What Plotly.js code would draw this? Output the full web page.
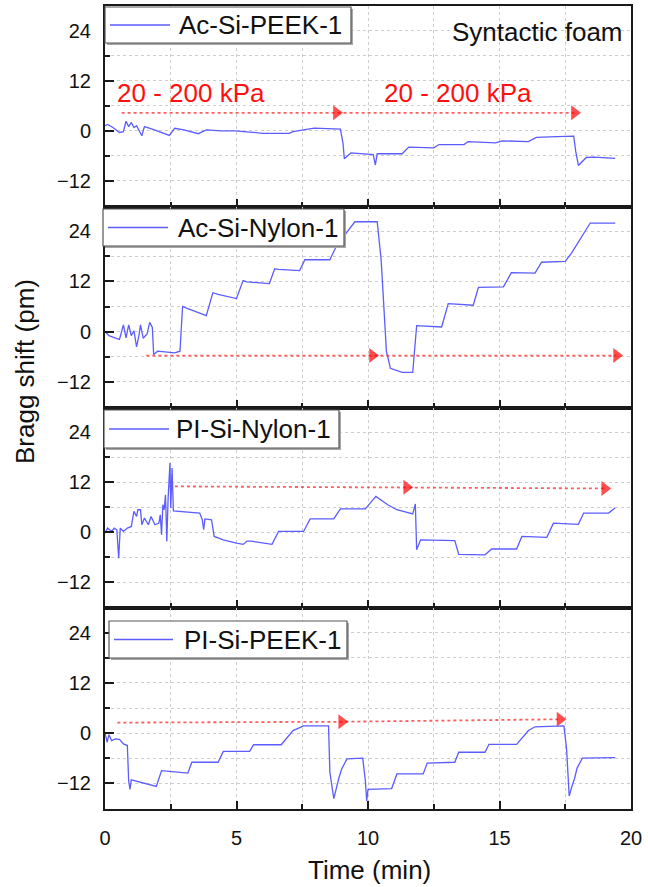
<!DOCTYPE html>
<html><head><meta charset="utf-8">
<script src="https://cdn.plot.ly/plotly-3.0.1.min.js"></script>
<style>html,body{margin:0;padding:0;background:#fff;}#chart{width:648px;height:887px;}</style>
</head><body><div id="chart"></div>
<script>
// ---------- data ----------
const seriesNames = ['Ac-Si-PEEK-1', 'Ac-Si-Nylon-1', 'PI-Si-Nylon-1', 'PI-Si-PEEK-1'];

const p1Time  = [0, 0.1, 0.3, 0.55, 0.7, 0.8, 0.9, 1.0, 1.1, 1.2, 1.4, 1.5, 1.8, 2.1, 2.45, 2.65, 3.0, 3.55, 3.85, 4.4, 4.95, 5.5, 6.0, 7.0, 7.15, 7.95, 8.5, 8.95, 9.05, 9.1, 9.35, 10.2, 10.28, 10.35, 11.3, 11.55, 12.5, 12.7, 13.65, 13.8, 14.85, 15.1, 16.1, 16.4, 17.2, 17.82, 17.9, 18.0, 18.3, 18.6, 19.4];
const p1Shift = [1.2, 1.5, 0.8, -0.4, -0.2, 2.3, 1.0, 2.0, 0.8, 1.2, -1.2, 1.0, 0.4, -0.3, -1.1, 0.6, 0.2, -0.7, 0.2, 0, 0, -0.3, -0.6, -0.6, -0.2, 0.65, 0.5, 0.4, -3.0, -6.7, -5.3, -5.7, -8.2, -5.5, -5.5, -3.9, -4.1, -3.3, -3.3, -2.6, -2.9, -2.4, -2.6, -1.6, -1.4, -1.3, -5.0, -8.3, -6.4, -6.3, -6.6];

const p2Time  = [0, 0.15, 0.4, 0.55, 0.7, 0.8, 0.9, 1.0, 1.1, 1.2, 1.3, 1.35, 1.45, 1.6, 1.7, 1.8, 1.85, 2.0, 2.65, 2.85, 2.95, 3.1, 3.85, 4.1, 4.3, 5.0, 5.25, 5.4, 6.25, 6.45, 6.6, 7.4, 7.6, 7.8, 8.55, 8.8, 9.5, 10.35, 10.5, 10.7, 10.85, 11.3, 11.7, 11.85, 12.8, 13.05, 14.0, 14.2, 15.15, 15.45, 16.35, 16.6, 17.5, 17.75, 18.45, 19.4];
const p2Shift = [0, -1.0, -1.6, -1.9, 1.6, -1.5, 1.6, -1.0, 0.2, -3.7, -0.6, 1.6, -1.6, -0.6, 2.2, 1.0, -5.5, -4.7, -5.1, -4.7, 6.0, 5.6, 3.8, 9.3, 8.9, 7.9, 12.2, 11.9, 11.5, 15.0, 14.9, 14.6, 17.2, 17.2, 17.2, 20.5, 26.3, 26.3, 17.2, -4.7, -8.8, -9.8, -9.8, 1.4, 1.1, 6.7, 6.3, 10.6, 10.7, 14.1, 14.0, 16.6, 16.8, 18.9, 26.0, 26.0];

const p3Time  = [0, 0.1, 0.25, 0.35, 0.45, 0.52, 0.58, 0.7, 0.85, 1.0, 1.1, 1.2, 1.25, 1.35, 1.4, 1.5, 1.65, 1.75, 1.9, 2.05, 2.1, 2.15, 2.2, 2.25, 2.3, 2.35, 2.4, 2.45, 2.47, 2.5, 2.55, 2.6, 2.9, 3.6, 3.7, 3.75, 3.8, 4.05, 4.15, 4.5, 5.0, 5.25, 5.4, 5.55, 6.35, 6.6, 7.55, 7.8, 8.7, 8.95, 9.9, 10.3, 10.75, 11.1, 11.7, 11.8, 11.85, 12.0, 13.3, 13.45, 14.45, 14.7, 15.65, 15.85, 16.8, 17.05, 18.0, 18.2, 19.15, 19.4];
const p3Shift = [-0.2, 1.0, 0.2, 1.0, 0.6, -6.2, 1.0, 0.2, 1.0, 1.4, 5.0, 3.8, 5.4, 5.4, 1.8, 3.4, 1.8, 3.8, 1.8, 2.2, 4.2, -0.6, 6.6, 5.4, 9.0, -2.2, 8.2, 14.6, 16.6, 5.8, 15.4, 5.1, 5.0, 4.6, 3.0, 0.6, 3.2, 3.0, -1.0, -1.8, -2.6, -2.9, -2.1, -2.1, -2.9, 0.2, 0.2, 3.2, 3.2, 5.6, 5.6, 8.6, 6.6, 5.4, 4.4, 6.8, -4.2, -1.8, -2.0, -5.3, -5.4, -4.0, -4.0, -1.0, -1.2, 2.2, 1.9, 4.6, 4.6, 5.9];

const p4Time  = [0, 0.08, 0.15, 0.25, 0.4, 0.55, 0.7, 0.85, 0.9, 0.95, 1.0, 1.2, 1.95, 2.15, 3.15, 3.3, 4.3, 4.5, 5.5, 5.65, 6.7, 7.15, 7.55, 8.5, 8.55, 8.7, 8.78, 8.9, 9.0, 9.2, 9.8, 9.9, 9.95, 10.0, 10.9, 11.1, 12.1, 12.25, 13.3, 13.45, 14.45, 14.6, 15.65, 16.1, 16.35, 17.45, 17.55, 17.65, 17.75, 17.85, 17.95, 18.15, 19.4];
const p4Shift = [0, -2.2, -0.4, -1.8, -1.4, -1.5, -2.6, -3.0, -11.5, -13.5, -11.2, -11.5, -12.8, -9.0, -9.6, -7.0, -7.0, -4.4, -4.4, -2.8, -2.8, 0.6, 1.7, 1.7, -9.4, -15.7, -13.4, -10.6, -8.6, -6.2, -6.0, -11.5, -16.3, -13.5, -13.3, -9.8, -9.8, -7.2, -7.0, -4.6, -4.6, -2.7, -2.7, 0.6, 1.5, 1.7, -3.8, -15.1, -12.8, -11.0, -8.4, -6.0, -5.9];

// red dotted "pressure ramp" arrows (tail, first head, second head)
const arrow1Time = [0.63, 8.8, 17.85];   const arrow1Shift = [4.3, 4.3, 4.3];
const arrow2Time = [1.57, 10.17, 19.45]; const arrow2Shift = [-5.75, -5.75, -5.75];
const arrow3Time = [2.43, 11.47, 19.0];  const arrow3Shift = [11.0, 10.8, 10.5];
const arrow4Time = [0.47, 9.0, 17.3];    const arrow4Shift = [2.5, 2.7, 3.3];

const pressureLabel = '20 - 200 kPa';
const materialLabel = 'Syntactic foam';
const xTitle = 'Time (min)';
const yTitle = 'Bragg shift (pm)';

// ---------- layout helpers ----------
const W = 648, H = 887, L = 105, R = 17, T = 6, B = 78;
const plotW = W - L - R, plotH = H - T - B;
const px = x => (x - L) / plotW;
const py = y => (H - B - y) / plotH;
const FONT = 'Liberation Sans, Arial, sans-serif';
const BLUE = '#5c5cff';
const AXC = '#1a1a1a';
const GRID = '#cdcdcd';

const times = [p1Time, p2Time, p3Time, p4Time];
const shifts = [p1Shift, p2Shift, p3Shift, p4Shift];
const aT = [arrow1Time, arrow2Time, arrow3Time, arrow4Time];
const aS = [arrow1Shift, arrow2Shift, arrow3Shift, arrow4Shift];

const traces = [];
for (let i = 0; i < 4; i++) {
  const xa = i === 0 ? 'x' : 'x' + (i + 1);
  const ya = i === 0 ? 'y' : 'y' + (i + 1);
  traces.push({
    type: 'scatter', mode: 'lines+markers', x: aT[i], y: aS[i], xaxis: xa, yaxis: ya,
    line: {color: 'rgba(255,40,40,0.75)', width: 1.8, dash: 'dot'},
    marker: {symbol: 'triangle-right', size: [0, 13, 13], color: '#ff0000', line: {width: 0}},
    showlegend: false, hoverinfo: 'skip'
  });
  traces.push({
    type: 'scatter', mode: 'lines', name: seriesNames[i], x: times[i], y: shifts[i],
    xaxis: xa, yaxis: ya, line: {color: BLUE, width: 1.3}, showlegend: false
  });
}

const layout = {
  width: W, height: H, margin: {l: L, r: R, t: T, b: B},
  paper_bgcolor: '#fff', plot_bgcolor: '#fff',
  font: {family: FONT, color: '#111', size: 20},
  showlegend: false, shapes: [], annotations: []
};

for (let i = 0; i < 4; i++) {
  const s = i === 0 ? '' : String(i + 1);
  layout['xaxis' + s] = {
    domain: [0, 1], range: [0, 20], anchor: 'y' + s,
    tickmode: 'linear', tick0: 0, dtick: 5,
    ticks: 'inside', ticklen: 8, tickwidth: 2, tickcolor: AXC,
    showticklabels: i === 3, tickfont: {size: 20, family: FONT, color: '#111'},
    ticklabelstandoff: 10,
    showline: true, mirror: true, linewidth: 2, linecolor: AXC,
    showgrid: true, gridcolor: GRID, griddash: 'dot', gridwidth: 1, zeroline: false,
    minor: {dtick: 2.5, ticks: 'inside', ticklen: 5, tickwidth: 2, tickcolor: AXC,
            showgrid: true, gridcolor: GRID, griddash: 'dot', gridwidth: 1},
    fixedrange: true
  };
  if (i > 0) layout['xaxis' + s].matches = 'x';
  layout['yaxis' + s] = {
    domain: [(3 - i) / 4, (4 - i) / 4], range: [-18.2, 29.9], anchor: 'x' + s,
    tickmode: 'linear', tick0: 0, dtick: 12,
    ticks: 'inside', ticklen: 9, tickwidth: 2, tickcolor: AXC,
    tickfont: {size: 20, family: FONT, color: '#111'}, ticklabelstandoff: 8,
    showline: true, mirror: true, linewidth: 2, linecolor: AXC,
    showgrid: true, gridcolor: GRID, griddash: 'dot', gridwidth: 1, zeroline: false,
    minor: {dtick: 6, ticks: 'inside', ticklen: 5, tickwidth: 2, tickcolor: AXC,
            showgrid: true, gridcolor: GRID, griddash: 'dot', gridwidth: 1},
    fixedrange: true
  };
}

// hand-drawn legend boxes (pixel boxes: left, top, right, bottom; line start/end; text x)
const legendBoxes = [
  {box: [105, 7, 351, 43], line: [110, 170], tx: 177},
  {box: [103, 209, 344, 246], line: [108, 168], tx: 176},
  {box: [104, 410, 339, 448], line: [109, 169], tx: 174},
  {box: [109, 621, 347, 658], line: [114, 173], tx: 182}
];
legendBoxes.forEach((lg, i) => {
  const [x0, y0, x1, y1] = lg.box;
  const yc = (y0 + y1) / 2;
  layout.shapes.push({type: 'rect', xref: 'paper', yref: 'paper', layer: 'above',
    x0: px(x0 + 2), x1: px(x1 + 2), y0: py(y1 + 2), y1: py(y0 + 2),
    fillcolor: '#a8a8a8', line: {width: 0}});
  layout.shapes.push({type: 'rect', xref: 'paper', yref: 'paper', layer: 'above',
    x0: px(x0), x1: px(x1), y0: py(y1), y1: py(y0),
    fillcolor: '#fff', line: {color: '#555', width: 1.2}});
  layout.shapes.push({type: 'line', xref: 'paper', yref: 'paper', layer: 'above',
    x0: px(lg.line[0]), x1: px(lg.line[1]), y0: py(yc), y1: py(yc),
    line: {color: BLUE, width: 1.3}});
  layout.annotations.push({xref: 'paper', yref: 'paper', x: px(lg.tx), y: py(yc),
    xanchor: 'left', yanchor: 'middle', showarrow: false, text: seriesNames[i],
    font: {size: 26, family: FONT, color: '#111'}});
});

// texts
layout.annotations.push({xref: 'paper', yref: 'paper', x: px(115), y: py(93), xanchor: 'left', yanchor: 'middle',
  showarrow: false, text: pressureLabel, font: {size: 26, family: FONT, color: '#ff1010'}});
layout.annotations.push({xref: 'paper', yref: 'paper', x: px(382), y: py(93), xanchor: 'left', yanchor: 'middle',
  showarrow: false, text: pressureLabel, font: {size: 26, family: FONT, color: '#ff1010'}});
layout.annotations.push({xref: 'paper', yref: 'paper', x: px(625), y: py(32), xanchor: 'right', yanchor: 'middle',
  showarrow: false, text: materialLabel, font: {size: 26, family: FONT, color: '#111'}});
layout.annotations.push({xref: 'paper', yref: 'paper', x: px(369), y: py(870), xanchor: 'center', yanchor: 'middle',
  showarrow: false, text: xTitle, font: {size: 26, family: FONT, color: '#111'}});
layout.annotations.push({xref: 'paper', yref: 'paper', x: px(25), y: py(372), xanchor: 'center', yanchor: 'middle',
  showarrow: false, textangle: -90, text: yTitle, font: {size: 26, family: FONT, color: '#111'}});

Plotly.newPlot('chart', traces, layout, {displayModeBar: false, staticPlot: true});
</script>
</body></html>
